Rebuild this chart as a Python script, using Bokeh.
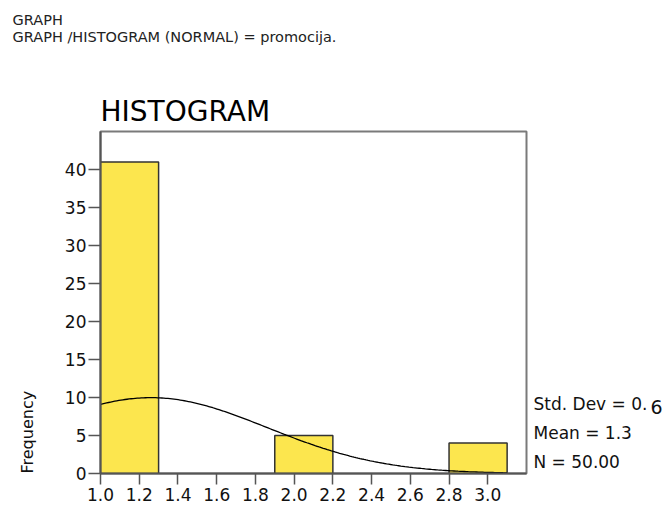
import numpy as np
from bokeh.plotting import figure
from bokeh.models import Range1d, FixedTicker, Label
from bokeh.embed import file_html
from bokeh.resources import INLINE

# ---- data ----
bin_left = [1.0, 1.9, 2.8]
bin_right = [1.3, 2.2, 3.1]
counts = [41, 5, 4]
values = [1.0, 2.0, 3.0]
bin_width = 0.3
x_ticks = [1.0, 1.2, 1.4, 1.6, 1.8, 2.0, 2.2, 2.4, 2.6, 2.8, 3.0]
x_tick_labels = ["1.0", "1.2", "1.4", "1.6", "1.8", "2.0", "2.2", "2.4", "2.6", "2.8", "3.0"]
y_ticks = [0, 5, 10, 15, 20, 25, 30, 35, 40]
header_lines = ["GRAPH", "GRAPH /HISTOGRAM (NORMAL) = promocija."]
title_text = "HISTOGRAM"
y_label = "Frequency"
stat_lines = ["Std. Dev = 0.", "Mean = 1.3", "N = 50.00"]
stat_std_digit = "6"

# normal curve from the data
cnt = np.array(counts, dtype=float)
val = np.array(values)
n = cnt.sum()
mean = (cnt * val).sum() / n
sd = np.sqrt((cnt * (val - mean) ** 2).sum() / (n - 1))
xs = np.linspace(bin_left[0], bin_right[-1], 200)
ys = n * bin_width * np.exp(-0.5 * ((xs - mean) / sd) ** 2) / (sd * np.sqrt(2 * np.pi))

FONT = "DejaVu Sans"

p = figure(width=665, height=511, x_range=Range1d(1.0, 3.2), y_range=Range1d(0, 45),
           output_backend="svg", toolbar_location=None, title=None,
           min_border_left=100, min_border_right=139, min_border_top=131, min_border_bottom=38)
p.grid.visible = False
p.outline_line_color = "#7a7a7a"
p.outline_line_width = 2
p.background_fill_color = "white"
p.border_fill_color = "white"

p.quad(left=bin_left, right=bin_right, top=counts, bottom=0,
       fill_color="#FCE64E", line_color="#333333", line_width=1.5)
p.line(xs, ys, line_color="black", line_width=1.3)

for ax in (p.xaxis, p.yaxis):
    ax.axis_line_color = "#555555"
    ax.axis_line_width = 2
    ax.major_tick_line_color = "#555555"
    ax.major_tick_line_width = 1.5
    ax.major_tick_in = 0
    ax.minor_tick_line_color = None
    ax.major_label_text_font = FONT
    ax.major_label_text_font_size = "17px"
    ax.major_label_text_color = "#111111"

p.xaxis.ticker = FixedTicker(ticks=x_ticks)
p.xaxis.major_label_overrides = {t: l for t, l in zip(x_ticks, x_tick_labels)}
p.xaxis.major_tick_out = 11
p.xaxis.major_label_standoff = 3
p.yaxis.ticker = FixedTicker(ticks=y_ticks)
p.yaxis.major_tick_out = 12
p.yaxis.major_label_standoff = 2

def canvas_label(text, x, y, size, side, **kw):
    p.add_layout(Label(text=text, x=x, y=y, x_units="canvas", y_units="canvas",
                       text_font=FONT, text_font_size=size, **kw), side)

# side-panel text (centre annotations are clipped to the frame)
canvas_label(title_text, 100, 111, "28px", "above", text_baseline="alphabetic", text_color="black")
canvas_label(header_lines[0], 12, 19, "14.5px", "above", text_baseline="alphabetic", text_color="#222222")
canvas_label(header_lines[1], 12, 36, "14.5px", "above", text_baseline="alphabetic", text_color="#222222")
canvas_label("\n".join(stat_lines), 533, 393, "17px", "right", text_line_height=1.47,
             text_baseline="top", text_color="#111111")
canvas_label(stat_std_digit, 650, 406, "19px", "right", text_baseline="middle", text_color="#111111")
canvas_label(y_label, 27, 473, "16px", "left", angle=float(np.pi / 2), text_align="left",
             text_baseline="middle", text_color="#111111")

open("out.html", "w").write(file_html(p, INLINE))
